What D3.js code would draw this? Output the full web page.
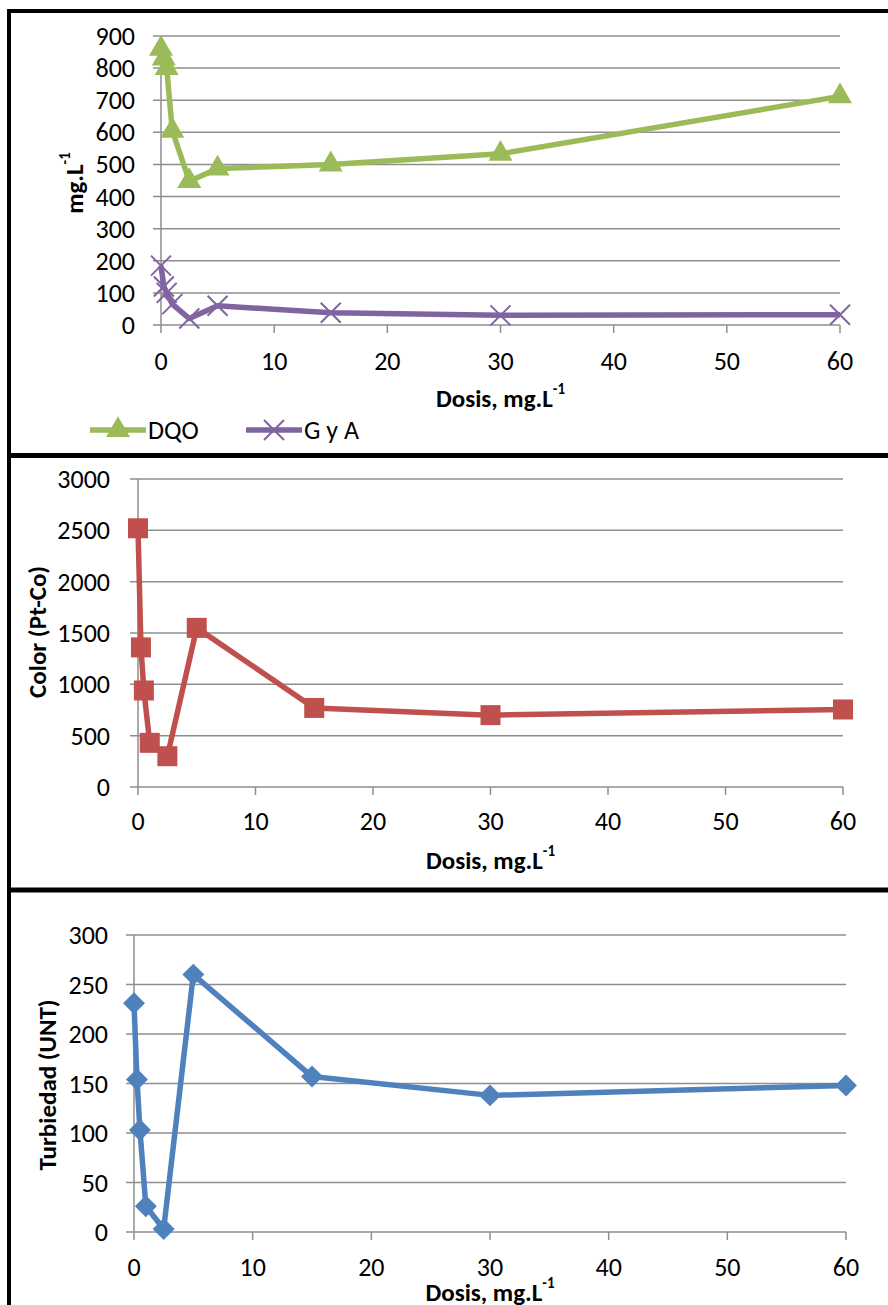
<!DOCTYPE html>
<html>
<head>
<meta charset="utf-8">
<script src="https://cdn.jsdelivr.net/npm/d3@7"></script>
<style>
  body { margin: 0; background: #fff; }
  svg text { font-family: Carlito, Calibri, Lato, sans-serif; fill: #000; }
</style>
</head>
<body>
<div id="chart"></div>
<script>
// doses (mg/L) shared by all series
const doses = [0, 0.25, 0.5, 1, 2.5, 5, 15, 30, 60];
const dqo = [860, 830, 800, 605, 448, 487, 500, 533, 712];
const gya = [185, 120, 100, 65, 20, 60, 38, 30, 32];
const color = [2520, 1360, 940, 430, 300, 1550, 770, 700, 755];
const turbiedad = [231, 154, 103, 26, 3, 260, 157, 138, 148];

const xTicks = [0, 10, 20, 30, 40, 50, 60];
const yTicksTop = [0, 100, 200, 300, 400, 500, 600, 700, 800, 900];
const yTicksColor = [0, 500, 1000, 1500, 2000, 2500, 3000];
const yTicksTurb = [0, 50, 100, 150, 200, 250, 300];

const W = 888, H = 1305;
const svg = d3.select("#chart").append("svg")
    .attr("width", W)
    .attr("height", H);

svg.append("rect").attr("width", W).attr("height", H).attr("fill", "#fff");

const gridColor = "#8e8e8e";
const tickFont = 26;
const titleFont = 25;

function drawPanel(p) {
    let g = svg.append("g");
    let x = d3.scaleLinear().domain([0, 60]).range(p.xr);
    let y = d3.scaleLinear().domain([0, d3.max(p.yTicks)]).range(p.yr);

    // horizontal grid + y ticks
    p.yTicks.forEach(t => {
        g.append("line")
            .attr("x1", p.xr[0] - 8).attr("x2", p.xr[1])
            .attr("y1", y(t)).attr("y2", y(t))
            .attr("stroke", gridColor).attr("stroke-width", 1.5);
        g.append("text")
            .attr("x", p.yLabelX).attr("y", y(t))
            .attr("text-anchor", "end")
            .attr("dominant-baseline", "central")
            .attr("font-size", tickFont)
            .text(t);
    });

    // y axis line
    g.append("line")
        .attr("x1", p.xr[0]).attr("x2", p.xr[0])
        .attr("y1", p.yr[0]).attr("y2", p.yr[1])
        .attr("stroke", gridColor).attr("stroke-width", 1.5);

    // x ticks
    xTicks.forEach(t => {
        g.append("line")
            .attr("x1", x(t)).attr("x2", x(t))
            .attr("y1", p.yr[0]).attr("y2", p.yr[0] + 8)
            .attr("stroke", gridColor).attr("stroke-width", 1.5);
        g.append("text")
            .attr("x", x(t)).attr("y", p.xLabelY)
            .attr("text-anchor", "middle")
            .attr("dominant-baseline", "central")
            .attr("font-size", tickFont)
            .text(t);
    });

    // x title
    let xt = g.append("text")
        .attr("x", (p.xr[0] + p.xr[1]) / 2).attr("y", p.xTitleY)
        .attr("text-anchor", "middle")
        .attr("dominant-baseline", "central")
        .attr("font-size", titleFont)
        .attr("font-weight", "bold");
    xt.append("tspan").text("Dosis, mg.L");
    xt.append("tspan").attr("font-size", 15).attr("dy", -9).text("-1");

    // y title
    let yt = g.append("text")
        .attr("transform", `translate(${p.yTitle[0]}, ${p.yTitle[1]}) rotate(-90)`)
        .attr("text-anchor", "middle")
        .attr("dominant-baseline", "central")
        .attr("font-size", titleFont)
        .attr("font-weight", "bold");
    yt.append("tspan").text(p.yTitleText);
    if (p.ySup) {
        yt.append("tspan").attr("font-size", 15).attr("dy", -9).text(p.ySup);
    }

    let line = d3.line().x(d => x(d[0])).y(d => y(d[1]));

    p.series.forEach(s => {
        let pts = doses.map((d, i) => [d, s.values[i]]);
        g.append("path")
            .datum(pts)
            .attr("d", line)
            .attr("fill", "none")
            .attr("stroke", s.color)
            .attr("stroke-width", 5.5)
            .attr("stroke-linejoin", "round");
        pts.forEach(d => drawMarker(g, s.marker, x(d[0]), y(d[1]), s.color));
    });
}

function drawMarker(g, type, cx, cy, col) {
    if (type == "triangle") {
        g.append("path")
            .attr("d", d3.symbol().type(d3.symbolTriangle).size(250)())
            .attr("transform", `translate(${cx},${cy})`)
            .attr("fill", col);
    } else if (type == "square") {
        g.append("rect")
            .attr("x", cx - 10).attr("y", cy - 10)
            .attr("width", 20).attr("height", 20)
            .attr("fill", col);
    } else if (type == "diamond") {
        g.append("path")
            .attr("d", d3.symbol().type(d3.symbolSquare).size(240)())
            .attr("transform", `translate(${cx},${cy}) rotate(45)`)
            .attr("fill", col);
    } else if (type == "x") {
        g.append("path")
            .attr("d", `M${cx - 10},${cy - 10}L${cx + 10},${cy + 10}M${cx - 10},${cy + 10}L${cx + 10},${cy - 10}`)
            .attr("stroke", col).attr("stroke-width", 2);
    }
}

const panels = [
    {
        xr: [161, 840], yr: [325, 36], yTicks: yTicksTop,
        yLabelX: 135, xLabelY: 361, xTitleY: 398,
        yTitle: [74, 183], yTitleText: "mg.L", ySup: "-1",
        series: [
            {values: dqo, color: "#9bbb59", marker: "triangle"},
            {values: gya, color: "#8064a2", marker: "x"}
        ]
    },
    {
        xr: [138, 843], yr: [787, 479], yTicks: yTicksColor,
        yLabelX: 110, xLabelY: 821, xTitleY: 860,
        yTitle: [37, 632], yTitleText: "Color (Pt-Co)",
        series: [{values: color, color: "#c0504d", marker: "square"}]
    },
    {
        xr: [134, 846], yr: [1232, 935], yTicks: yTicksTurb,
        yLabelX: 108, xLabelY: 1267, xTitleY: 1292,
        yTitle: [47, 1085], yTitleText: "Turbiedad (UNT)",
        series: [{values: turbiedad, color: "#4f81bd", marker: "diamond"}]
    }
];

panels.forEach(drawPanel);

// legend for the first panel
const legendItems = [
    {name: "DQO", color: "#9bbb59", marker: "triangle", x0: 90},
    {name: "G y A", color: "#8064a2", marker: "x", x0: 246}
];
legendItems.forEach(l => {
    svg.append("line")
        .attr("x1", l.x0).attr("x2", l.x0 + 56)
        .attr("y1", 430).attr("y2", 430)
        .attr("stroke", l.color).attr("stroke-width", 5.5);
    drawMarker(svg, l.marker, l.x0 + 28, 430, l.color);
    svg.append("text")
        .attr("x", l.x0 + 58).attr("y", 430)
        .attr("dominant-baseline", "central")
        .attr("font-size", tickFont)
        .text(l.name);
});

// panel frames
svg.append("line").attr("x1", 9).attr("x2", 9).attr("y1", 9).attr("y2", H)
    .attr("stroke", "#000").attr("stroke-width", 4);
svg.append("line").attr("x1", 7).attr("x2", W).attr("y1", 11).attr("y2", 11)
    .attr("stroke", "#000").attr("stroke-width", 4);
svg.append("line").attr("x1", 7).attr("x2", W).attr("y1", 455.5).attr("y2", 455.5)
    .attr("stroke", "#000").attr("stroke-width", 5);
svg.append("line").attr("x1", 7).attr("x2", W).attr("y1", 890).attr("y2", 890)
    .attr("stroke", "#000").attr("stroke-width", 5);
</script>
</body>
</html>
